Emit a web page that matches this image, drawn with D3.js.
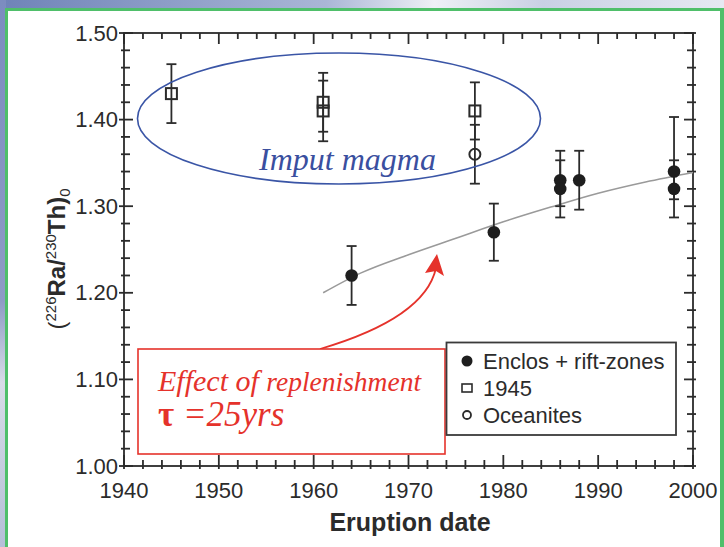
<!DOCTYPE html>
<html>
<head>
<meta charset="utf-8">
<script src="https://cdn.jsdelivr.net/npm/d3@7"></script>
<style>
body { margin: 0; background: #fff; }
svg { display: block; }
</style>
</head>
<body>
<div id="chart"></div>
<script>
// 1945 eruption samples (open squares)
const sq_years = [1945, 1961, 1961, 1977];
const sq_values = [1.43, 1.42, 1.41, 1.41];
const sq_err_hi = [0.034, 0.034, 0.035, 0.033];
const sq_err_lo = [0.034, 0.034, 0.035, 0.033];

// Oceanites (open circle)
const oc_years = [1977];
const oc_values = [1.36];
const oc_err_hi = [0.034];
const oc_err_lo = [0.034];

// Enclos + rift-zones (filled circles)
const en_years = [1964, 1979, 1986, 1986, 1988, 1998, 1998];
const en_values = [1.22, 1.27, 1.33, 1.32, 1.33, 1.34, 1.32];
const en_err_hi = [0.034, 0.033, 0.034, 0.033, 0.034, 0.063, 0.033];
const en_err_lo = [0.034, 0.033, 0.030, 0.033, 0.034, 0.032, 0.033];

// replenishment model curve
const model_years = [1961, 1965, 1970, 1975, 1980, 1985, 1990, 1995, 2000];
const model_values = [1.200, 1.223, 1.244, 1.263, 1.282, 1.299, 1.315, 1.328, 1.339];

const x_ticks = [1940, 1950, 1960, 1970, 1980, 1990, 2000];
const y_ticks = [1.00, 1.10, 1.20, 1.30, 1.40, 1.50];

const legend_labels = ['Enclos + rift-zones', '1945', 'Oceanites'];

const W = 724, H = 547;
const p_left = 124, p_right = 693, p_top = 33, p_bottom = 466;
const ink = '#2b2b2b';

const svg = d3.select('#chart').append('svg')
	.attr('width', W).attr('height', H);

// background decoration (slide frame)
const defs = svg.append('defs');
const topgrad = defs.append('linearGradient').attr('id', 'topgrad');
topgrad.append('stop').attr('offset', '0%').attr('stop-color', '#6f83b8');
topgrad.append('stop').attr('offset', '45%').attr('stop-color', '#aab6d6');
topgrad.append('stop').attr('offset', '60%').attr('stop-color', '#eef0f6');
topgrad.append('stop').attr('offset', '75%').attr('stop-color', '#c9d0e4');
topgrad.append('stop').attr('offset', '100%').attr('stop-color', '#e6e9f2');
const leftgrad = defs.append('linearGradient').attr('id', 'leftgrad')
	.attr('x1', 0).attr('y1', 0).attr('x2', 0).attr('y2', 1);
leftgrad.append('stop').attr('offset', '0%').attr('stop-color', '#7c8cc0');
leftgrad.append('stop').attr('offset', '55%').attr('stop-color', '#8e9bc6');
leftgrad.append('stop').attr('offset', '70%').attr('stop-color', '#d8dce8');
leftgrad.append('stop').attr('offset', '100%').attr('stop-color', '#b5bfd8');

svg.append('rect').attr('x', 0).attr('y', 0).attr('width', W).attr('height', 8)
	.attr('fill', 'url(#topgrad)');
svg.append('rect').attr('x', 0).attr('y', 0).attr('width', 6).attr('height', H)
	.attr('fill', 'url(#leftgrad)');
svg.append('rect').attr('x', 6).attr('y', 8).attr('width', W - 6).attr('height', 3)
	.attr('fill', '#4fbf6a');
svg.append('rect').attr('x', 5).attr('y', 8).attr('width', 3).attr('height', H - 8)
	.attr('fill', '#4fbf6a');
svg.append('rect').attr('x', 720).attr('y', 8).attr('width', 4).attr('height', H - 8)
	.attr('fill', '#4fbf6a');

const x = d3.scaleLinear().domain([1940, 2000]).range([p_left, p_right]);
const y = d3.scaleLinear().domain([1.0, 1.5]).range([p_bottom, p_top]);

// minor ticks
const x_minor = d3.range(1940, 2001, 2);
const y_minor = d3.range(0, 26).map(i => 1.0 + i * 0.02);

const axes = svg.append('g').attr('stroke', ink).attr('stroke-width', 1.8);
const is_major_x = v => v % 10 === 0;
const is_major_y = v => Math.abs(v * 10 - Math.round(v * 10)) < 1e-6;

// bottom / top ticks
axes.selectAll('.xb').data(x_minor).join('line')
	.attr('x1', d => x(d)).attr('x2', d => x(d))
	.attr('y1', p_bottom + 3).attr('y2', d => p_bottom - (is_major_x(d) ? 11 : 6));
axes.selectAll('.xt').data(x_minor).join('line')
	.attr('x1', d => x(d)).attr('x2', d => x(d))
	.attr('y1', p_top).attr('y2', d => p_top + (is_major_x(d) ? 11 : 6));
// left / right ticks
axes.selectAll('.yl').data(y_minor).join('line')
	.attr('y1', d => y(d)).attr('y2', d => y(d))
	.attr('x1', d => p_left - (is_major_y(d) ? 5 : 3)).attr('x2', d => p_left + (is_major_y(d) ? 9 : 6));
axes.selectAll('.yr').data(y_minor).join('line')
	.attr('y1', d => y(d)).attr('y2', d => y(d))
	.attr('x1', d => p_right - (is_major_y(d) ? 9 : 6)).attr('x2', p_right + 3);

axes.append('rect').attr('x', p_left).attr('y', p_top)
	.attr('width', p_right - p_left).attr('height', p_bottom - p_top).attr('fill', 'none');

// tick labels
svg.append('g').selectAll('text').data(x_ticks).join('text')
	.attr('x', d => x(d)).attr('y', p_bottom + 32)
	.attr('text-anchor', 'middle')
	.attr('font-family', 'Liberation Sans, Arial, sans-serif')
	.attr('font-size', 22).attr('fill', ink)
	.text(d => d);
svg.append('g').selectAll('text').data(y_ticks).join('text')
	.attr('x', p_left - 6).attr('y', d => y(d) + 7.5)
	.attr('text-anchor', 'end')
	.attr('font-family', 'Liberation Sans, Arial, sans-serif')
	.attr('font-size', 22).attr('fill', ink)
	.text(d => d.toFixed(2));

// axis titles
svg.append('text')
	.attr('x', 410).attr('y', 531)
	.attr('text-anchor', 'middle')
	.attr('font-family', 'Liberation Sans, Arial, sans-serif')
	.attr('font-weight', 'bold').attr('font-size', 25).attr('fill', ink)
	.text('Eruption date');

const ytitle = svg.append('text')
	.attr('transform', 'translate(65,259) rotate(-90)')
	.attr('text-anchor', 'middle')
	.attr('font-family', 'Liberation Sans, Arial, sans-serif')
	.attr('font-size', 24).attr('fill', ink);
ytitle.append('tspan').text('(');
ytitle.append('tspan').attr('font-size', 15).attr('dy', -9).text('226');
ytitle.append('tspan').attr('font-weight', 'bold').attr('dy', 9).text('Ra/');
ytitle.append('tspan').attr('font-size', 15).attr('dy', -9).text('230');
ytitle.append('tspan').attr('font-weight', 'bold').attr('dy', 9).text('Th)');
ytitle.append('tspan').attr('font-size', 15).attr('dy', 5).text('0');

// model curve
const line = d3.line().x(d => x(d[0])).y(d => y(d[1])).curve(d3.curveMonotoneX);
svg.append('path')
	.datum(model_years.map((yr, i) => [yr, model_values[i]]))
	.attr('fill', 'none').attr('stroke', '#9a9a9a').attr('stroke-width', 1.6)
	.attr('d', line);

// error bars
const draw_errors = (years, values, err_hi, err_lo) => {
	const g = svg.append('g').attr('stroke', ink).attr('stroke-width', 1.8);
	years.forEach((yr, i) => {
		const cx = x(yr), hi = y(values[i] + err_hi[i]), lo = y(values[i] - err_lo[i]);
		g.append('line').attr('x1', cx).attr('x2', cx).attr('y1', hi).attr('y2', lo);
		g.append('line').attr('x1', cx - 5).attr('x2', cx + 5).attr('y1', hi).attr('y2', hi);
		g.append('line').attr('x1', cx - 5).attr('x2', cx + 5).attr('y1', lo).attr('y2', lo);
	});
};
draw_errors(sq_years, sq_values, sq_err_hi, sq_err_lo);
draw_errors(oc_years, oc_values, oc_err_hi, oc_err_lo);
draw_errors(en_years, en_values, en_err_hi, en_err_lo);

// markers
svg.append('g').selectAll('rect').data(sq_years).join('rect')
	.attr('x', d => x(d) - 5.5).attr('y', (d, i) => y(sq_values[i]) - 5.5)
	.attr('width', 11).attr('height', 11)
	.attr('fill', 'none').attr('stroke', ink).attr('stroke-width', 2);
svg.append('g').selectAll('circle').data(oc_years).join('circle')
	.attr('cx', d => x(d)).attr('cy', (d, i) => y(oc_values[i])).attr('r', 5.5)
	.attr('fill', 'none').attr('stroke', ink).attr('stroke-width', 2);
svg.append('g').selectAll('circle').data(en_years).join('circle')
	.attr('cx', d => x(d)).attr('cy', (d, i) => y(en_values[i])).attr('r', 6.3)
	.attr('fill', '#1e1e1e');

// "Imput magma" ellipse
svg.append('ellipse')
	.attr('cx', 339).attr('cy', 118.5).attr('rx', 201.5).attr('ry', 65.5)
	.attr('fill', 'none').attr('stroke', '#3a55a6').attr('stroke-width', 1.6);
svg.append('text')
	.attr('x', 259).attr('y', 170)
	.attr('font-family', 'Liberation Serif, Times New Roman, serif')
	.attr('font-style', 'italic').attr('font-size', 32).attr('fill', '#3a4f9f')
	.text('Imput magma');

// replenishment annotation
const red = '#e5322b';
svg.append('path')
	.attr('d', 'M320,349 Q425,318 436,268')
	.attr('fill', 'none').attr('stroke', red).attr('stroke-width', 1.8);
svg.append('path')
	.attr('d', 'M437,254 L444,276 L436,271 L425,273 Z')
	.attr('fill', red);
svg.append('rect')
	.attr('x', 138).attr('y', 349).attr('width', 307).attr('height', 105)
	.attr('fill', '#fff').attr('stroke', red).attr('stroke-width', 1.6);
const eff = svg.append('text')
	.attr('x', 158).attr('y', 391)
	.attr('font-family', 'Liberation Serif, Times New Roman, serif')
	.attr('font-style', 'italic').attr('fill', red);
eff.append('tspan').attr('font-size', 30).text('Effect of ');
eff.append('tspan').attr('font-size', 27.5).text('replenishment');
const tau = svg.append('text')
	.attr('x', 158).attr('y', 426)
	.attr('font-family', 'Liberation Serif, Times New Roman, serif')
	.attr('font-size', 35).attr('fill', red);
tau.append('tspan').attr('font-weight', 'bold').text('τ');
tau.append('tspan').attr('font-style', 'italic').text(' =25yrs');

// legend
const lg = svg.append('g');
lg.append('rect').attr('x', 446.5).attr('y', 342.5).attr('width', 229.5).attr('height', 92.5)
	.attr('fill', '#fff').attr('stroke', '#3a3a3a').attr('stroke-width', 1.8);
const ly = [361, 388, 415];
lg.append('circle').attr('cx', 467).attr('cy', ly[0]).attr('r', 5.5).attr('fill', '#1e1e1e');
lg.append('rect').attr('x', 462).attr('y', ly[1] - 4).attr('width', 10).attr('height', 8)
	.attr('fill', 'none').attr('stroke', ink).attr('stroke-width', 1.6);
lg.append('circle').attr('cx', 467).attr('cy', ly[2]).attr('r', 4)
	.attr('fill', 'none').attr('stroke', ink).attr('stroke-width', 1.8);
lg.selectAll('text').data(legend_labels).join('text')
	.attr('x', 483).attr('y', (d, i) => ly[i] + 7.5)
	.attr('font-family', 'Liberation Sans, Arial, sans-serif')
	.attr('font-size', 22).attr('fill', ink)
	.text(d => d);
</script>
</body>
</html>
